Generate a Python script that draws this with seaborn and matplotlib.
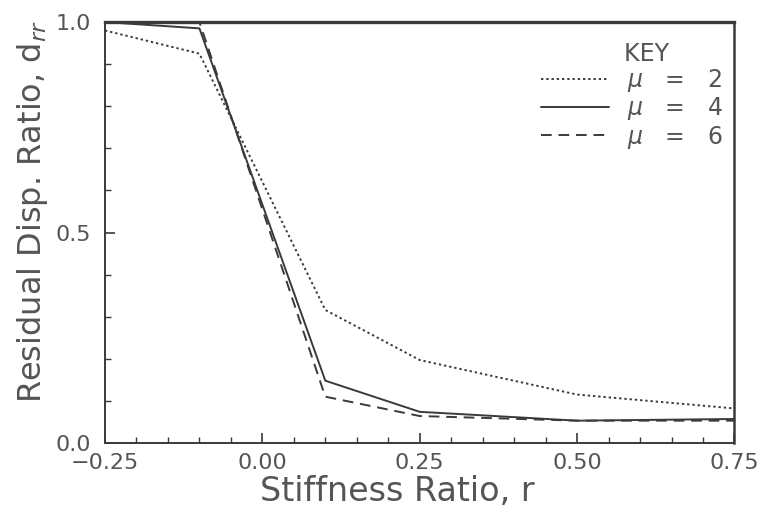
import matplotlib
matplotlib.use("Agg")
import matplotlib.pyplot as plt
import seaborn as sns
import pandas as pd
from matplotlib.ticker import MultipleLocator

sns.set_theme(style="white")
plt.rcParams['font.family'] = ['DejaVu Sans']

r_values = [-0.25, -0.10, 0.10, 0.25, 0.50, 0.75]
mu2 = [0.98, 0.925, 0.316, 0.197, 0.115, 0.082]
mu4 = [1.00, 0.985, 0.148, 0.074, 0.053, 0.057]
mu6 = [1.00, 1.000, 0.110, 0.064, 0.053, 0.053]
labels = [r"$\mu$   =   2", r"$\mu$   =   4", r"$\mu$   =   6"]

fig = plt.figure(figsize=(7.63, 5.13), dpi=100)
ax = fig.add_axes([0.1376, 0.1365, 0.825, 0.8205])

col = "#3a3a3a"
txt = "#555555"
styles = [(0, (1.2, 1.5)), "-", (0, (5.5, 3.5))]
for vals, lab, ls in zip([mu2, mu4, mu6], labels, styles):
    df = pd.DataFrame({"r": r_values, "d": vals})
    sns.lineplot(data=df, x="r", y="d", ax=ax, color=col, linestyle=ls,
                 linewidth=1.4, label=lab)

ax.set_xlim(-0.25, 0.75)
ax.set_ylim(0.0, 1.0)
ax.xaxis.set_major_locator(MultipleLocator(0.25))
ax.xaxis.set_minor_locator(MultipleLocator(0.05))
ax.yaxis.set_major_locator(MultipleLocator(0.5))
ax.yaxis.set_minor_locator(MultipleLocator(0.1))
ax.xaxis.set_major_formatter(plt.FuncFormatter(lambda v, p: f"{v:.2f}".replace("-", "\u2212")))
ax.yaxis.set_major_formatter(plt.FuncFormatter(lambda v, p: f"{v:.1f}"))
ax.tick_params(which="both", direction="in", colors=col, labelcolor=txt,
               labelsize=16)
ax.tick_params(which="major", length=7, width=1.2)
ax.tick_params(which="minor", length=4, width=1.0)
ax.tick_params(axis="x", which="both", bottom=True, top=False)
ax.tick_params(axis="y", which="both", left=True, right=False)
ax.tick_params(axis="x", which="major", pad=7)
ax.tick_params(axis="y", which="major", pad=10)
for s in ax.spines.values():
    s.set_color(col)
    s.set_linewidth(1.4)
ax.spines["top"].set_linewidth(2.4)
ax.spines["right"].set_linewidth(1.8)

ax.set_xlabel("Stiffness Ratio, r", fontsize=24, color=txt)
ax.set_ylabel(r"Residual Disp. Ratio, d$_{rr}$", fontsize=23, color=txt)
ax.xaxis.set_label_coords(0.465, -0.076)
ax.yaxis.set_label_coords(-0.087, 0.549)

leg = ax.legend(title="    KEY", loc="upper right", frameon=False, fontsize=17,
                title_fontsize=17, handlelength=2.9, handletextpad=0.75,
                labelspacing=0.05, borderpad=0, borderaxespad=0,
                bbox_to_anchor=(0.947, 0.918), bbox_transform=fig.transFigure)
for t in leg.get_texts():
    t.set_color(txt)
leg.get_title().set_color(txt)

fig.savefig("out.png", dpi=100)
